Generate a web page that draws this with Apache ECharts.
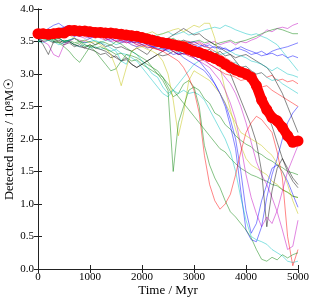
<!DOCTYPE html>
<html>
<head>
<meta charset="utf-8">
<script src="https://cdn.jsdelivr.net/npm/echarts@6/dist/echarts.min.js"></script>
<style>
html,body{margin:0;padding:0;background:#fff;}
#chart{width:314px;height:300px;}
</style>
</head>
<body>
<div id="chart"></div>
<script>
// Time sampling (Myr)
const times = [0,100,200,300,400,500,600,700,800,900,
  1000,1100,1200,1300,1400,1500,1600,1700,1800,1900,
  2000,2100,2200,2300,2400,2500,2600,2700,2800,2900,
  3000,3100,3200,3300,3400,3500,3600,3700,3800,3900,
  4000,4100,4200,4300,4400,4500,4600,4700,4800,4900,5000];

const xTicks = [0,1000,2000,3000,4000,5000];
const yTicks = [0.0,0.5,1.0,1.5,2.0,2.5,3.0,3.5,4.0];

// Mean detected mass (thick red)
const meanMass = [3.62,3.62,3.61,3.62,3.63,3.63,3.67,3.67,3.66,3.66,
  3.65,3.64,3.64,3.63,3.63,3.62,3.61,3.60,3.59,3.58,
  3.56,3.54,3.52,3.50,3.48,3.47,3.45,3.43,3.42,3.38,
  3.35,3.33,3.30,3.27,3.24,3.20,3.15,3.10,3.06,3.03,
  3.00,2.95,2.82,2.60,2.45,2.33,2.28,2.18,2.05,1.95,1.97];

// Individual runs
const runG1 = [3.55,3.58,3.52,3.55,3.48,3.42,3.35,3.25,3.18,3.30,
  3.42,3.45,3.50,3.48,3.44,3.50,3.46,3.40,3.35,3.30,
  3.25,3.20,3.10,3.00,2.90,2.75,1.50,2.25,2.50,2.75,
  2.80,2.50,1.90,1.60,1.40,1.25,1.05,0.88,0.80,0.70,
  0.60,0.48,0.30,0.15,0.12,0.18,0.14,0.22,0.17,0.22,0.25];
const runY1 = [3.60,3.62,3.58,3.60,3.55,3.57,3.60,3.55,3.50,3.52,
  3.48,3.50,3.45,3.40,3.30,3.10,2.82,3.10,3.35,3.40,
  3.42,3.38,3.35,3.30,3.20,3.00,2.60,2.05,2.40,2.90,
  3.05,3.00,2.95,2.90,2.80,2.70,2.55,2.40,2.25,2.10,
  2.05,2.00,1.95,1.90,1.82,1.75,1.62,1.50,1.30,1.05,0.85];
const runR1 = [3.60,3.58,3.62,3.65,3.60,3.62,3.66,3.70,3.65,3.62,
  3.60,3.58,3.60,3.62,3.58,3.55,3.52,3.55,3.50,3.48,
  3.45,3.42,3.40,3.38,3.35,3.30,3.25,3.20,3.10,2.95,
  2.75,2.40,1.75,1.30,1.05,0.92,1.00,1.15,1.45,1.80,
  2.10,2.25,2.35,2.30,2.20,2.10,1.80,1.40,0.50,0.05,0.30];
const runC1 = [3.50,3.55,3.52,3.58,3.55,3.50,3.52,3.55,3.50,3.48,
  3.50,3.52,3.48,3.45,3.40,3.35,3.20,3.15,3.35,3.30,
  3.20,3.10,3.00,2.95,2.80,2.70,2.75,2.70,2.75,2.70,
  2.72,2.68,2.60,2.45,2.30,2.15,2.00,1.80,1.50,1.10,
  0.75,0.50,0.45,0.42,0.38,0.30,0.25,0.20,0.12,0.10,0.12];
const runB1 = [3.55,3.60,3.58,3.62,3.70,3.72,3.75,3.70,3.68,3.65,
  3.62,3.60,3.58,3.62,3.60,3.55,3.58,3.52,3.50,3.48,
  3.50,3.45,3.42,3.40,3.38,3.35,3.30,3.32,3.25,3.20,
  3.15,3.10,3.05,2.95,2.85,2.70,2.50,2.20,1.85,1.20,
  0.60,0.45,0.42,0.65,1.10,1.45,1.70,2.00,2.25,2.40,2.50];
const runM1 = [3.55,3.50,3.45,3.30,3.26,3.45,3.50,3.55,3.52,3.50,
  3.55,3.58,3.60,3.55,3.50,3.52,3.48,3.50,3.45,3.42,
  3.45,3.40,3.42,3.38,3.35,3.40,3.35,3.30,3.32,3.28,
  3.25,3.20,3.15,3.10,3.00,2.90,2.75,2.55,2.30,1.90,
  1.45,1.10,0.85,0.65,0.80,0.70,0.90,1.20,1.50,1.70,1.90];
const runM2 = [3.62,3.60,3.65,3.62,3.60,3.58,3.62,3.60,3.58,3.55,
  3.58,3.60,3.55,3.52,3.55,3.50,3.52,3.48,3.50,3.45,
  3.48,3.45,3.42,3.45,3.40,3.38,3.42,3.35,3.38,3.30,
  3.32,3.25,3.20,3.15,3.10,3.05,2.95,2.85,2.70,2.50,
  2.25,1.95,1.65,1.45,1.30,1.10,0.88,0.60,0.30,0.35,0.75];
const runK1 = [3.55,3.45,3.30,3.50,3.52,3.48,3.50,3.45,3.42,3.40,
  3.45,3.40,3.38,3.35,3.30,3.25,3.20,3.25,3.15,3.10,
  3.15,3.20,3.25,3.30,3.28,3.30,3.35,3.30,3.32,3.35,
  3.30,3.35,3.28,3.30,3.25,3.20,3.10,3.00,2.80,2.60,
  2.40,2.20,1.95,1.50,0.65,1.20,1.55,1.70,1.55,1.40,1.30];
const runG2 = [3.50,3.52,3.55,3.50,3.48,3.52,3.50,3.45,3.48,3.42,
  3.45,3.40,3.42,3.38,3.35,3.30,3.32,3.25,3.20,3.22,
  3.15,3.10,3.05,3.00,2.95,2.85,2.75,2.65,2.55,2.45,
  2.35,2.25,2.15,2.05,1.95,1.85,1.80,1.70,1.62,1.55,
  1.50,1.45,1.42,1.38,1.35,1.30,1.28,1.22,1.18,1.12,1.10];
const runG3 = [3.60,3.55,3.58,3.52,3.55,3.50,3.52,3.48,3.50,3.45,
  3.42,3.35,3.25,3.15,3.05,3.08,3.20,3.30,3.28,3.25,
  3.20,3.15,3.10,3.05,2.95,2.80,2.65,2.70,2.85,2.90,
  2.80,2.75,2.62,2.55,2.40,2.35,2.22,2.15,2.05,1.98,
  1.92,1.88,1.80,1.76,1.70,1.66,1.60,1.56,1.50,1.48,1.45];
const runC2 = [3.62,3.65,3.60,3.62,3.65,3.68,3.65,3.62,3.66,3.70,
  3.65,3.68,3.65,3.62,3.60,3.65,3.62,3.60,3.62,3.65,
  3.60,3.62,3.58,3.60,3.62,3.65,3.60,3.62,3.65,3.60,
  3.62,3.65,3.68,3.70,3.72,3.70,3.75,3.72,3.68,3.65,
  3.62,3.60,3.62,3.58,3.55,3.50,3.45,3.35,3.25,3.15,3.05];
const runM3 = [3.58,3.60,3.62,3.58,3.60,3.62,3.60,3.58,3.62,3.60,
  3.58,3.60,3.62,3.58,3.55,3.58,3.60,3.58,3.55,3.58,
  3.55,3.52,3.55,3.50,3.52,3.55,3.50,3.48,3.52,3.50,
  3.48,3.50,3.45,3.48,3.50,3.45,3.48,3.50,3.45,3.50,
  3.48,3.52,3.55,3.60,3.68,3.65,3.70,3.72,3.70,3.75,3.78];
const runG4 = [3.52,3.55,3.60,3.58,3.62,3.60,3.65,3.62,3.60,3.65,
  3.62,3.60,3.58,3.62,3.60,3.58,3.55,3.60,3.58,3.55,
  3.58,3.55,3.52,3.55,3.50,3.52,3.55,3.50,3.52,3.48,
  3.50,3.52,3.48,3.50,3.45,3.48,3.50,3.52,3.48,3.50,
  3.52,3.55,3.58,3.62,3.65,3.68,3.70,3.68,3.65,3.62,3.62];
const runB2 = [3.58,3.62,3.60,3.65,3.62,3.60,3.62,3.58,3.60,3.62,
  3.60,3.58,3.62,3.60,3.55,3.58,3.60,3.55,3.58,3.55,
  3.52,3.55,3.50,3.52,3.55,3.50,3.48,3.50,3.45,3.48,
  3.45,3.42,3.45,3.40,3.42,3.38,3.40,3.35,3.38,3.42,
  3.38,3.35,3.32,3.35,3.30,3.32,3.28,3.30,3.25,3.28,3.25];
const runR2 = [3.62,3.60,3.58,3.62,3.60,3.65,3.62,3.60,3.58,3.62,
  3.60,3.62,3.58,3.60,3.62,3.58,3.60,3.55,3.58,3.55,
  3.58,3.55,3.60,3.55,3.52,3.55,3.50,3.52,3.48,3.50,
  3.45,3.48,3.42,3.40,3.35,3.30,3.25,3.20,3.15,3.10,
  3.12,3.05,3.00,3.02,2.95,2.98,2.90,2.92,2.88,2.90,2.85];
const runC3 = [3.55,3.58,3.55,3.52,3.55,3.50,3.52,3.55,3.50,3.52,
  3.55,3.50,3.48,3.52,3.50,3.45,3.48,3.50,3.45,3.42,
  3.45,3.40,3.42,3.38,3.40,3.35,3.38,3.32,3.35,3.30,
  3.32,3.28,3.25,3.28,3.22,3.20,3.22,3.15,3.18,3.10,
  3.12,3.05,3.00,3.02,2.95,2.90,2.92,2.85,2.80,2.75,2.70];
const runY2 = [3.60,3.62,3.65,3.60,3.58,3.62,3.60,3.65,3.62,3.60,
  3.58,3.60,3.62,3.58,3.60,3.62,3.65,3.60,3.62,3.58,
  3.60,3.62,3.65,3.60,3.62,3.65,3.68,3.70,3.65,3.70,
  3.75,3.72,3.78,3.78,3.55,3.10,2.75,2.45,2.15,1.90,
  1.70,1.60,1.55,1.50,1.45,1.35,1.30,1.22,1.18,1.12,1.10];
const runK2 = [3.55,3.50,3.52,3.48,3.50,3.45,3.48,3.42,3.45,3.40,
  3.38,3.35,3.30,3.32,3.25,3.28,3.20,3.22,3.15,3.10,
  3.15,3.20,3.25,3.30,3.35,3.40,3.42,3.45,3.40,3.42,
  3.38,3.40,3.35,3.38,3.30,3.35,3.28,3.30,3.25,3.28,
  3.30,3.25,3.20,3.15,3.10,3.00,2.85,2.70,2.50,2.30,2.10];
const runK3 = [3.60,3.55,3.58,3.60,3.55,3.50,3.52,3.55,3.50,3.48,
  3.50,3.45,3.48,3.42,3.45,3.40,3.42,3.38,3.35,3.40,
  3.35,3.30,3.40,3.45,3.50,3.55,3.60,3.65,3.70,3.65,
  3.60,3.62,3.55,3.50,3.45,3.40,3.35,3.30,3.20,3.10,
  3.00,2.90,2.75,2.60,2.40,2.20,1.95,1.70,1.50,1.35,1.25];
const runB3 = [3.60,3.62,3.58,3.60,3.62,3.65,3.60,3.62,3.58,3.60,
  3.55,3.58,3.60,3.55,3.52,3.55,3.50,3.52,3.48,3.50,
  3.45,3.48,3.42,3.45,3.40,3.38,3.40,3.35,3.30,3.32,
  3.25,3.20,3.10,3.00,2.85,2.70,2.55,2.30,2.00,1.50,
  0.90,0.55,0.70,1.05,1.30,1.55,1.60,1.50,1.35,1.15,0.95];
const runC4 = [3.50,3.48,3.52,3.50,3.45,3.48,3.50,3.45,3.42,3.45,
  3.40,3.42,3.38,3.40,3.35,3.38,3.32,3.30,3.25,3.20,
  3.10,3.00,2.90,2.80,2.70,2.65,2.75,2.85,2.95,3.05,
  3.15,3.20,3.25,3.30,3.35,3.30,3.32,3.35,3.30,3.28,
  3.25,3.20,3.18,3.15,3.10,3.05,3.10,3.05,3.00,2.98,2.95];
const runR3 = [3.60,3.65,3.62,3.60,3.58,3.62,3.65,3.60,3.62,3.58,
  3.60,3.55,3.58,3.52,3.55,3.50,3.52,3.48,3.50,3.45,
  3.42,3.45,3.40,3.38,3.35,3.40,3.35,3.30,3.32,3.28,
  3.25,3.20,3.22,3.15,3.10,3.05,3.00,2.98,2.95,2.90,
  2.92,2.88,2.85,2.80,2.82,2.75,2.70,2.65,2.60,2.55,2.50];
const runB4 = [3.62,3.65,3.70,3.75,3.78,3.72,3.70,3.68,3.65,3.62,
  3.65,3.60,3.62,3.58,3.60,3.62,3.58,3.55,3.58,3.52,
  3.55,3.50,3.52,3.55,3.50,3.48,3.52,3.50,3.45,3.48,
  3.50,3.45,3.42,3.45,3.40,3.42,3.38,3.35,3.40,3.38,
  3.35,3.30,3.32,3.28,3.30,3.35,3.38,3.40,3.42,3.45,3.48];

const C = {b:'#0000ff', g:'#008000', r:'#ff0000', c:'#00bfbf', m:'#bf00bf', y:'#bfbf00', k:'#000000'};
const runs = [
  [runB4,C.b],[runC2,C.c],[runM3,C.m],[runG4,C.g],[runB2,C.b],[runR2,C.r],[runC3,C.c],
  [runR3,C.r],[runK2,C.k],[runK3,C.k],[runC4,C.c],[runY2,C.y],[runG3,C.g],[runG2,C.g],
  [runB3,C.b],[runM2,C.m],[runK1,C.k],[runM1,C.m],[runB1,C.b],[runC1,C.c],[runR1,C.r],
  [runY1,C.y],[runG1,C.g]
];

const pair = arr => times.map((t,i)=>[t,arr[i]]);
const FONT = '"Liberation Serif","DejaVu Serif",serif';

const series = runs.map(([arr,col])=>({
  type:'line', data:pair(arr), showSymbol:false, symbol:'none', silent:true,
  lineStyle:{color:col, width:0.8, opacity:0.6}, z:2
}));
series.push({
  type:'line', data:pair(meanMass), symbol:'circle', symbolSize:11, showSymbol:true,
  itemStyle:{color:'#ff0000', borderWidth:0}, lineStyle:{color:'#ff0000', width:10}, z:10
});

const axisCommon = {
  axisLine:{show:true, lineStyle:{color:'#222', width:1}},
  axisTick:{show:true, inside:true, length:4, lineStyle:{color:'#222'}},
  splitLine:{show:false}
};

const chart = echarts.init(document.getElementById('chart'), null, {renderer:'canvas'});
chart.setOption({
  animation:false,
  backgroundColor:'#fff',
  grid:{left:38, right:16, top:9, bottom:31, containLabel:false, outerBoundsMode:'none'},
  xAxis:[
    Object.assign({type:'value', min:xTicks[0], max:xTicks[xTicks.length-1], interval:1000,
      name:'Time / Myr', nameLocation:'middle', nameGap:15, nameMoveOverlap:false,
      nameTextStyle:{fontFamily:FONT, fontSize:13, color:'#000'},
      axisLabel:{fontFamily:FONT, fontSize:11, color:'#000', margin:3, formatter:v=>String(v)}}, axisCommon),
    Object.assign({type:'value', position:'top', min:xTicks[0], max:xTicks[xTicks.length-1], interval:1000,
      axisLabel:{show:false}}, axisCommon)
  ],
  yAxis:[
    Object.assign({type:'value', min:yTicks[0], max:yTicks[yTicks.length-1], interval:0.5,
      name:'Detected mass / 10\u2078M\u2609', nameLocation:'middle', nameGap:22, nameMoveOverlap:false,
      nameTextStyle:{fontFamily:FONT, fontSize:12.5, color:'#000'},
      axisLabel:{fontFamily:FONT, fontSize:11, color:'#000', margin:4,
        formatter:v=>v.toFixed(1)}}, axisCommon),
    Object.assign({type:'value', position:'right', min:yTicks[0], max:yTicks[yTicks.length-1], interval:0.5,
      axisLabel:{show:false}}, axisCommon)
  ],
  series:series
});
</script>
</body>
</html>
